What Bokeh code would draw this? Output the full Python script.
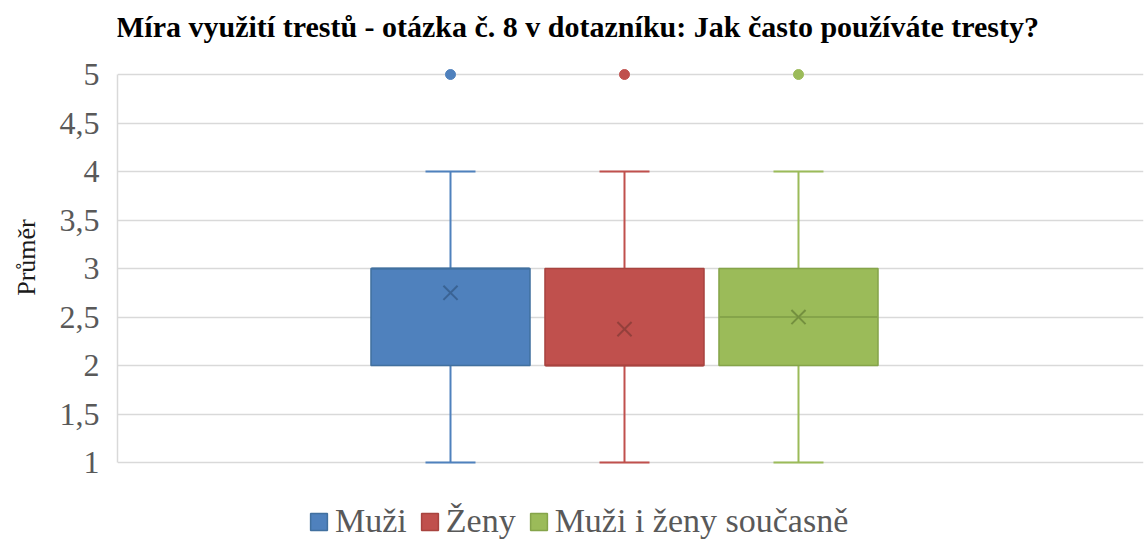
import numpy as np
from bokeh.plotting import figure
from bokeh.models import (Range1d, FixedTicker, CustomJSTickFormatter, Label,
                          Legend, LegendItem, ColumnDataSource)
from bokeh.embed import file_html
from bokeh.resources import INLINE

# ---- data ----
categories = ["Muži", "Ženy", "Muži i ženy současně"]
whisker_low = [1, 1, 1]
q1 = [2, 2, 2]
median = [3, 2, 2.5]
q3 = [3, 3, 3]
whisker_high = [4, 4, 4]
means = [2.75, 2.375, 2.5]
outliers = [5, 5, 5]
y_ticks = [1, 1.5, 2, 2.5, 3, 3.5, 4, 4.5, 5]

# ---- styles ----
fill_colors = ["#4F81BD", "#C0504D", "#9BBB59"]
edge_colors = ["#41709F", "#A8433F", "#85A44A"]
mean_colors = ["#3A6394", "#94403C", "#74903F"]
idx = list(range(len(categories)))
FONT = "Liberation Serif"

src = ColumnDataSource(dict(x=idx, low=whisker_low, q1=q1, med=median, q3=q3,
                            high=whisker_high, mean=means, out=outliers,
                            fill=fill_colors, edge=edge_colors, mc=mean_colors,
                            cat=categories))

# the frame spans the full height so title and legend (drawn inside it) are not clipped
p = figure(width=1145, height=540, output_backend="svg", toolbar_location=None,
           x_range=Range1d(-1.9138, 3.9828), y_range=Range1d(0.196, 5.763),
           x_axis_location=None,
           min_border_left=117, min_border_right=2, min_border_top=0,
           min_border_bottom=0)
p.outline_line_color = None
p.background_fill_color = "white"
p.border_fill_color = "white"
p.xgrid.visible = False
p.ygrid.grid_line_color = "#D9D9D9"
p.ygrid.grid_line_width = 1.5

ax = p.yaxis[0]
ax.ticker = FixedTicker(ticks=y_ticks)
ax.bounds = (1, 5)
ax.formatter = CustomJSTickFormatter(code="return tick.toString().replace('.', ',')")
ax.major_tick_line_color = None
ax.minor_tick_line_color = None
ax.axis_line_color = "#D9D9D9"
ax.axis_line_width = 1.5
ax.major_label_text_font = FONT
ax.major_label_text_font_size = "32px"
ax.major_label_text_color = "#595959"
ax.major_label_standoff = 12
ax.axis_label = "\u00a0\u00a0\u00a0\u00a0Průměr"
ax.axis_label_text_font = FONT
ax.axis_label_text_font_size = "26px"
ax.axis_label_text_font_style = "normal"
ax.axis_label_text_color = "#1a1a1a"
ax.axis_label_standoff = 16

# whisker stems
p.segment(x0="x", y0="low", x1="x", y1="q1", line_color="fill", line_width=2, source=src)
p.segment(x0="x", y0="q3", x1="x", y1="high", line_color="fill", line_width=2, source=src)
# caps
p.scatter(x="x", y="low", marker="dash", size=50, line_color="fill", line_width=2, source=src)
p.scatter(x="x", y="high", marker="dash", size=50, line_color="fill", line_width=2, source=src)
# boxes
boxes = p.vbar(x="x", width=0.914, bottom="q1", top="q3", fill_color="fill",
               line_color="edge", line_width=1.5, source=src)
# medians
p.scatter(x="x", y="med", marker="dash", size=158, line_color="edge", line_width=2, source=src)
# means
p.scatter(x="x", y="mean", marker="x", size=20, line_color="mc", line_width=2, source=src)
# outliers
p.scatter(x="x", y="out", marker="circle", size=10, fill_color="fill", line_color="fill", source=src)

# title
p.add_layout(Label(x=460, y=514, x_units="screen", y_units="screen",
                   text="Míra využití trestů - otázka č. 8 v dotazníku: Jak často používáte tresty?",
                   text_align="center", text_baseline="alphabetic", text_font=FONT,
                   text_font_style="bold", text_font_size="30px", text_color="#000000"))

legend = Legend(items=[LegendItem(label=c, renderers=[boxes], index=i) for i, c in enumerate(categories)],
                location=(191, 0), orientation="horizontal",
                label_text_font=FONT, label_text_font_size="34px", label_text_color="#595959",
                glyph_width=21, glyph_height=21, label_standoff=6, spacing=12,
                padding=0, margin=0, border_line_color=None, background_fill_alpha=0)
p.add_layout(legend)

open("out.html", "w").write(file_html(p, INLINE))
